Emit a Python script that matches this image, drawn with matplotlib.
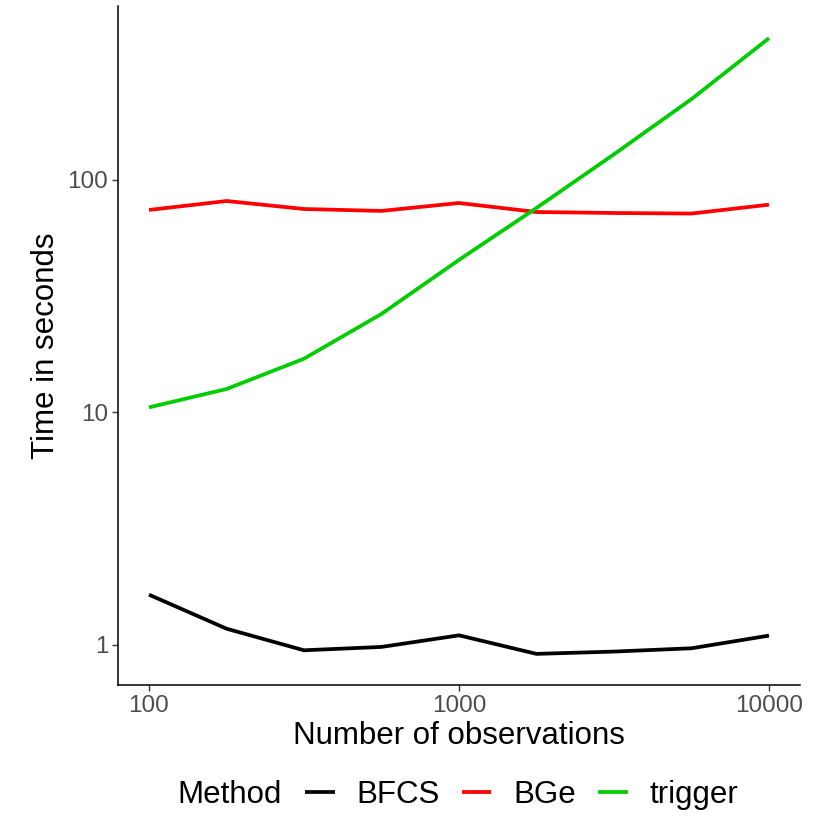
import matplotlib
matplotlib.use("Agg")
import matplotlib.pyplot as plt
from matplotlib.ticker import FixedLocator, NullLocator

plt.rcParams["font.family"] = ["Liberation Sans", "DejaVu Sans"]

observations = [100, 178, 316, 562, 1000, 1778, 3162, 5623, 10000]
methods = ["BFCS", "BGe", "trigger"]
bfcs_time = [1.64, 1.17, 0.945, 0.977, 1.096, 0.912, 0.933, 0.964, 1.093]
bge_time = [74.3, 81.2, 75.0, 73.6, 79.6, 72.8, 72.1, 71.7, 78.3]
trigger_time = [10.5, 12.6, 17.0, 26.5, 45.3, 75.8, 129, 223, 408]
colors = ["#000000", "#FF0000", "#00CD00"]
x_ticks = [100, 1000, 10000]
y_ticks = [1, 10, 100]

fig = plt.figure(figsize=(8.3, 8.3), dpi=100)
ax = fig.add_axes([118 / 830, 1 - 685 / 830, (800 - 118) / 830, (685 - 6) / 830])

for name, vals, c in zip(methods, [bfcs_time, bge_time, trigger_time], colors):
    ax.plot(observations, vals, color=c, lw=2.7, label=name, solid_capstyle="butt")

ax.set_xscale("log")
ax.set_yscale("log")
ax.set_xlim(10 ** 1.9, 10 ** 4.1)
ax.set_ylim(10 ** -0.174, 10 ** 2.749)
ax.xaxis.set_major_locator(FixedLocator(x_ticks))
ax.yaxis.set_major_locator(FixedLocator(y_ticks))
ax.xaxis.set_minor_locator(NullLocator())
ax.yaxis.set_minor_locator(NullLocator())
ax.set_xticklabels([str(v) for v in x_ticks])
ax.set_yticklabels([str(v) for v in y_ticks])

for s in ["top", "right"]:
    ax.spines[s].set_visible(False)
for s in ["left", "bottom"]:
    ax.spines[s].set_linewidth(1.1)
ax.tick_params(axis="both", length=4, width=1.0, color="#333333",
               labelsize=17.5, labelcolor="#4D4D4D", pad=3)

ax.set_xlabel("Number of observations", fontsize=22.5, labelpad=3)
ax.set_ylabel("Time in seconds", fontsize=22.5, labelpad=5)

fig.text(177 / 830, 1 - 795 / 830, "Method", fontsize=22.5, ha="left", va="center")
leg = fig.legend(loc="center left", bbox_to_anchor=(305 / 830, 1 - 795 / 830),
                 ncol=3, frameon=False, fontsize=22.5, handlelength=0.95,
                 handletextpad=0.7, columnspacing=0.7, borderpad=0, borderaxespad=0)

fig.savefig("out.png", dpi=100)
